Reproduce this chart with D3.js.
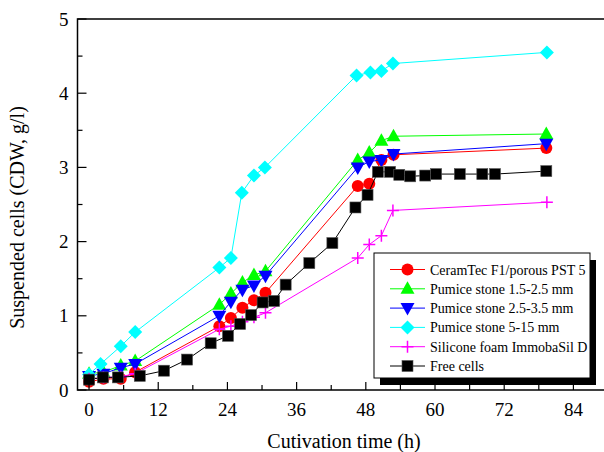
<!DOCTYPE html>
<html>
<head>
<meta charset="utf-8">
<script src="https://cdn.jsdelivr.net/npm/d3@7"></script>
<style>
  html, body { margin: 0; padding: 0; background: #fff; }
  svg { display: block; }
  text { font-family: "Liberation Serif", "Times New Roman", serif; fill: #000; }
</style>
</head>
<body>
<svg id="chart" width="604" height="452"></svg>
<script>
// ---- Data ----
const seriesNames = [
  "CeramTec F1/porous PST 5",
  "Pumice stone 1.5-2.5 mm",
  "Pumice stone 2.5-3.5 mm",
  "Pumice stone 5-15 mm",
  "Silicone foam ImmobaSil D",
  "Free cells"
];
const ceramTimes   = [0, 2.5, 5.5, 8, 22.6, 24.6, 26.6, 28.6, 30.6, 46.6, 48.6, 50.7, 52.8, 79.3];
const ceramValues  = [0.11, 0.15, 0.15, 0.24, 0.86, 0.97, 1.11, 1.21, 1.31, 2.75, 2.78, 3.10, 3.17, 3.26];
const pum15Times   = [0, 2.5, 5.5, 8, 22.6, 24.6, 26.6, 28.6, 30.6, 46.6, 48.6, 50.7, 52.8, 79.3];
const pum15Values  = [0.22, 0.24, 0.33, 0.39, 1.15, 1.30, 1.45, 1.55, 1.60, 3.10, 3.20, 3.36, 3.42, 3.45];
const pum25Times   = [0, 2.5, 5.5, 8, 22.6, 24.6, 26.6, 28.6, 30.6, 46.6, 48.6, 50.7, 52.8, 79.3];
const pum25Values  = [0.19, 0.22, 0.30, 0.35, 1.00, 1.19, 1.35, 1.41, 1.54, 3.00, 3.08, 3.10, 3.18, 3.32];
const pum5Times    = [0, 2, 5.5, 8, 22.6, 24.6, 26.5, 28.6, 30.5, 46.4, 48.8, 50.7, 52.7, 79.4];
const pum5Values   = [0.21, 0.35, 0.59, 0.78, 1.65, 1.78, 2.66, 2.89, 3.00, 4.24, 4.28, 4.30, 4.40, 4.55];
const siliTimes    = [0, 2.5, 5.5, 8, 22.6, 24.6, 26.6, 28.6, 30.6, 46.6, 48.6, 50.7, 52.7, 79.4];
const siliValues   = [0.15, 0.17, 0.18, 0.22, 0.82, 0.86, 0.92, 0.98, 1.04, 1.78, 1.96, 2.08, 2.42, 2.53];
const freeTimes    = [0, 2.4, 5, 8.8, 13, 17, 21.1, 24.1, 26.2, 28.1, 30.1, 32.1, 34.1, 38.2, 42.2, 46.2, 48.3, 50.1, 52.2, 53.8, 55.7, 58.3, 60.2, 64.3, 68.2, 70.4, 79.3];
const freeValues   = [0.14, 0.17, 0.17, 0.19, 0.26, 0.41, 0.63, 0.73, 0.89, 1.01, 1.18, 1.20, 1.42, 1.71, 1.98, 2.46, 2.63, 2.94, 2.94, 2.90, 2.88, 2.89, 2.91, 2.91, 2.91, 2.91, 2.95];

const xTickValues = [0, 12, 24, 36, 48, 60, 72, 84];
const yTickValues = [0, 1, 2, 3, 4, 5];
const xTitle = "Cutivation time (h)";
const yTitle = "Suspended cells (CDW, g/l)";

// ---- Layout ----
const svg = d3.select("#chart");
const pLeft = 77.5, pRight = 608, pTop = 19, pBottom = 390;
const x = d3.scaleLinear().domain([-2, 90]).range([pLeft, pRight]);
const y = d3.scaleLinear().domain([0, 5]).range([pBottom, pTop]);

const colors = ["#ff0000", "#00ff00", "#0000ff", "#00ffff", "#ff00ff", "#000000"];
const shapes = ["circle", "triangle", "invtriangle", "diamond", "plus", "square"];

const series = [
  { t: ceramTimes, v: ceramValues },
  { t: pum15Times, v: pum15Values },
  { t: pum25Times, v: pum25Values },
  { t: pum5Times, v: pum5Values },
  { t: siliTimes, v: siliValues },
  { t: freeTimes, v: freeValues }
].map((s, i) => ({ name: seriesNames[i], color: colors[i], shape: shapes[i],
  pts: s.t.map((tt, j) => [tt, s.v[j]]) }));

function drawMarker(g, shape, cx, cy, color) {
  if (shape === "circle") {
    g.append("circle").attr("cx", cx).attr("cy", cy).attr("r", 6).attr("fill", color);
  } else if (shape === "triangle") {
    g.append("path").attr("d", `M${cx},${cy-7.5}L${cx+7},${cy+5}L${cx-7},${cy+5}Z`).attr("fill", color);
  } else if (shape === "invtriangle") {
    g.append("path").attr("d", `M${cx},${cy+7.5}L${cx+7},${cy-5}L${cx-7},${cy-5}Z`).attr("fill", color);
  } else if (shape === "diamond") {
    g.append("path").attr("d", `M${cx},${cy-7}L${cx+7},${cy}L${cx},${cy+7}L${cx-7},${cy}Z`).attr("fill", color);
  } else if (shape === "plus") {
    g.append("path").attr("d", `M${cx-6},${cy}H${cx+6}M${cx},${cy-6}V${cy+6}`)
      .attr("stroke", color).attr("stroke-width", 1.5).attr("fill", "none");
  } else if (shape === "square") {
    g.append("rect").attr("x", cx-5.5).attr("y", cy-5.5).attr("width", 11).attr("height", 11)
      .attr("fill", color).attr("stroke", "#555").attr("stroke-width", 0.6);
  }
}

// ---- Series ----
const line = d3.line().x(d => x(d[0])).y(d => y(d[1]));
series.forEach((s, i) => {
  const g = svg.append("g");
  g.append("path").attr("d", line(s.pts)).attr("fill", "none")
    .attr("stroke", s.color).attr("stroke-width", 1);
  s.pts.forEach(p => drawMarker(g, s.shape, x(p[0]), y(p[1]), s.color));
});

// ---- Axes ----
const axisG = svg.append("g");
axisG.append("path")
  .attr("d", `M${pRight},${pTop}H${pLeft}V${pBottom}H${pRight}`)
  .attr("fill", "none").attr("stroke", "#000").attr("stroke-width", 1.5);

d3.range(0, 90, 6).forEach(t => {
  const major = t % 12 === 0;
  axisG.append("line").attr("x1", x(t)).attr("x2", x(t))
    .attr("y1", pBottom).attr("y2", pBottom - (major ? 8 : 5))
    .attr("stroke", "#000").attr("stroke-width", 1.2);
});
xTickValues.forEach(t => {
  axisG.append("text").attr("x", x(t)).attr("y", pBottom + 26)
    .attr("text-anchor", "middle").attr("font-size", 19).text(String(t));
});
d3.range(0, 5.01, 0.5).forEach(v => {
  const major = Math.abs(v - Math.round(v)) < 1e-6;
  axisG.append("line").attr("x1", pLeft).attr("x2", pLeft + (major ? 9 : 5))
    .attr("y1", y(v)).attr("y2", y(v)).attr("stroke", "#000").attr("stroke-width", 1.2);
});
yTickValues.forEach(v => {
  axisG.append("text").attr("x", pLeft - 9).attr("y", y(v) + 6.5)
    .attr("text-anchor", "end").attr("font-size", 19).text(String(v));
});

svg.append("text").attr("x", 344).attr("y", 448).attr("text-anchor", "middle")
  .attr("font-size", 20).text(xTitle);
svg.append("text").attr("transform", `translate(24,${(pTop+pBottom)/2 + 13}) rotate(-90)`)
  .attr("text-anchor", "middle").attr("font-size", 20).text(yTitle);

// ---- Legend ----
const lg = svg.append("g");
const lx = 374, ly = 253, lw = 216, lh = 125;
lg.append("rect").attr("x", lx + 6).attr("y", ly + 7).attr("width", lw).attr("height", lh).attr("fill", "#000");
lg.append("rect").attr("x", lx).attr("y", ly).attr("width", lw).attr("height", lh)
  .attr("fill", "#fff").attr("stroke", "#000").attr("stroke-width", 1);
series.forEach((s, i) => {
  const yy = 269.5 + i * 19.3;
  lg.append("line").attr("x1", 390).attr("x2", 425).attr("y1", yy).attr("y2", yy)
    .attr("stroke", s.color).attr("stroke-width", 1);
  drawMarker(lg, s.shape, 407.5, yy, s.color);
  lg.append("text").attr("x", 430).attr("y", yy + 5).attr("font-size", 14).text(s.name);
});
</script>
</body>
</html>
